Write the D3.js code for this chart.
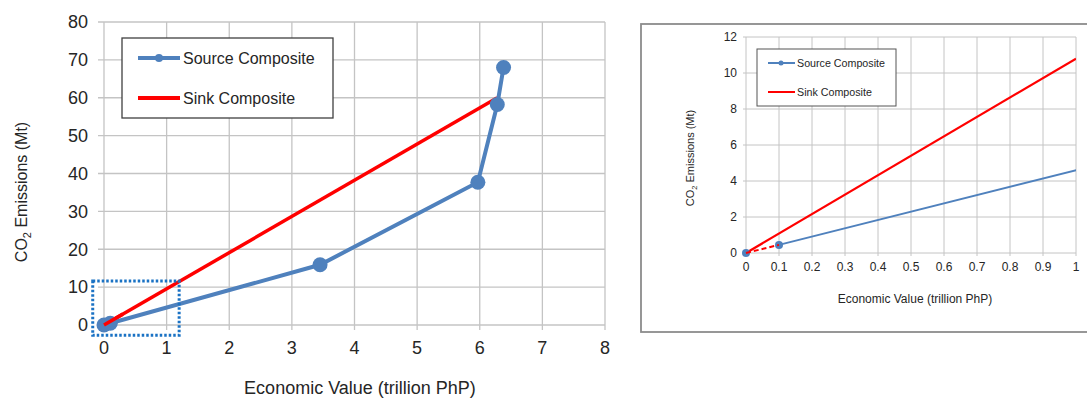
<!DOCTYPE html>
<html>
<head>
<meta charset="utf-8">
<script src="https://cdn.jsdelivr.net/npm/d3@7"></script>
<style>
body { margin:0; background:#fff; }
svg { font-family: "Liberation Sans", Arial, sans-serif; }
.grid line { stroke:#c4c4c4; stroke-width:1.3; }
.axis text { fill:#262626; }
</style>
</head>
<body>
<script>
// main chart data
var sourceX = [0, 0.1, 3.45, 5.97, 6.28, 6.38];
var sourceY = [0, 0.45, 15.9, 37.7, 58.2, 68.0];
var sinkX = [0, 6.28];
var sinkY = [0, 60.0];
var xTicks = [0, 1, 2, 3, 4, 5, 6, 7, 8];
var yTicks = [0, 10, 20, 30, 40, 50, 60, 70, 80];
// dotted zoom window (data units)
var zoomBoxX = [-0.18, 1.2];
var zoomBoxY = [-2.7, 11.6];

// zoomed chart data
var zSourceX = [0, 0.1];
var zSourceY = [0, 0.45];
var zSinkX = [0, 1];
var zSinkY = [0, 10.8];
var zLinkX = [0, 0.1];
var zLinkY = [0, 0.45];
var zxTicks = [0, 0.1, 0.2, 0.3, 0.4, 0.5, 0.6, 0.7, 0.8, 0.9, 1];
var zyTicks = [0, 2, 4, 6, 8, 10, 12];

var blue = "#4f81bd", red = "#ff0000";

var svg = d3.select("body").append("svg").attr("width", 1087).attr("height", 398);

function pts(xs, ys) { return xs.map(function(d, i) { return [d, ys[i]]; }); }

// ---------- left chart ----------
var x = d3.scaleLinear().domain([0, 8]).range([104, 605]);
var y = d3.scaleLinear().domain([0, 80]).range([325, 22]);

var grid = svg.append("g").attr("class", "grid");
grid.selectAll(".v").data(xTicks).enter().append("line")
  .attr("x1", x).attr("x2", x).attr("y1", y(80)).attr("y2", y(0) + 5);
grid.selectAll(".h").data(yTicks).enter().append("line")
  .attr("x1", x(0) - 6).attr("x2", x(8)).attr("y1", y).attr("y2", y);

svg.append("g").attr("class", "axis")
  .selectAll("text").data(yTicks).enter().append("text")
  .attr("x", x(0) - 16).attr("y", y).attr("dy", "0.35em")
  .attr("text-anchor", "end").style("font-size", "18px")
  .text(function(d) { return d; });
svg.append("g").attr("class", "axis")
  .selectAll("text").data(xTicks).enter().append("text")
  .attr("x", x).attr("y", y(0) + 29)
  .attr("text-anchor", "middle").style("font-size", "18px")
  .text(function(d) { return d; });

var line = d3.line().x(function(d) { return x(d[0]); }).y(function(d) { return y(d[1]); });

svg.append("path").datum(pts(sinkX, sinkY)).attr("d", line)
  .attr("fill", "none").attr("stroke", red).attr("stroke-width", 3.5);
svg.append("path").datum(pts(sourceX, sourceY)).attr("d", line)
  .attr("fill", "none").attr("stroke", blue).attr("stroke-width", 4);
svg.selectAll(".srcpt").data(pts(sourceX, sourceY)).enter().append("circle")
  .attr("cx", function(d) { return x(d[0]); }).attr("cy", function(d) { return y(d[1]); })
  .attr("r", 7.5).attr("fill", blue);
// sink line drawn over origin blob
svg.append("path").datum([[0, 0], [0.3, 2.87]]).attr("d", line)
  .attr("fill", "none").attr("stroke", red).attr("stroke-width", 3.5);

svg.append("rect")
  .attr("x", x(zoomBoxX[0])).attr("y", y(zoomBoxY[1]))
  .attr("width", x(zoomBoxX[1]) - x(zoomBoxX[0]))
  .attr("height", y(zoomBoxY[0]) - y(zoomBoxY[1]))
  .attr("fill", "none").attr("stroke", "#1a72c4").attr("stroke-width", 3)
  .attr("stroke-dasharray", "2.5,2");

// legend
var lg = svg.append("g");
lg.append("rect").attr("x", 122).attr("y", 38).attr("width", 211).attr("height", 80)
  .attr("fill", "#fff").attr("stroke", "#404040").attr("stroke-width", 1.3);
lg.append("line").attr("x1", 138).attr("x2", 180).attr("y1", 58).attr("y2", 58)
  .attr("stroke", blue).attr("stroke-width", 4);
lg.append("circle").attr("cx", 159).attr("cy", 58).attr("r", 4).attr("fill", blue);
lg.append("line").attr("x1", 138).attr("x2", 180).attr("y1", 98).attr("y2", 98)
  .attr("stroke", red).attr("stroke-width", 4);
lg.append("text").attr("x", 183).attr("y", 58).attr("dy", "0.35em").style("font-size", "16px")
  .attr("fill", "#262626").text("Source Composite");
lg.append("text").attr("x", 183).attr("y", 98).attr("dy", "0.35em").style("font-size", "16px")
  .attr("fill", "#262626").text("Sink Composite");

// titles
var yt = svg.append("text").attr("transform", "translate(27,192) rotate(-90)")
  .attr("text-anchor", "middle").style("font-size", "16px").attr("fill", "#262626");
yt.append("tspan").text("CO");
yt.append("tspan").attr("dy", 4).style("font-size", "11px").text("2");
yt.append("tspan").attr("dy", -4).text(" Emissions (Mt)");
svg.append("text").attr("x", 360).attr("y", 394).attr("text-anchor", "middle")
  .style("font-size", "18px").attr("fill", "#262626").text("Economic Value (trillion PhP)");

// ---------- right (zoomed) chart ----------
svg.append("rect").attr("x", 641).attr("y", 24).attr("width", 452).attr("height", 308)
  .attr("fill", "#fff").attr("stroke", "#8c8c8c").attr("stroke-width", 1.8);

var zx = d3.scaleLinear().domain([0, 1]).range([746, 1076]);
var zy = d3.scaleLinear().domain([0, 12]).range([253, 37]);

var zgrid = svg.append("g").attr("class", "grid");
zgrid.selectAll(".v").data(zxTicks).enter().append("line")
  .attr("x1", zx).attr("x2", zx).attr("y1", zy(12)).attr("y2", zy(0) + 3)
  .style("stroke-width", 1);
zgrid.selectAll(".h").data(zyTicks).enter().append("line")
  .attr("x1", zx(0) - 3).attr("x2", zx(1)).attr("y1", zy).attr("y2", zy)
  .style("stroke-width", 1);

svg.append("g").attr("class", "axis")
  .selectAll("text").data(zyTicks).enter().append("text")
  .attr("x", zx(0) - 9).attr("y", zy).attr("dy", "0.35em")
  .attr("text-anchor", "end").style("font-size", "12px")
  .text(function(d) { return d; });
svg.append("g").attr("class", "axis")
  .selectAll("text").data(zxTicks).enter().append("text")
  .attr("x", zx).attr("y", zy(0) + 18)
  .attr("text-anchor", "middle").style("font-size", "12px")
  .text(function(d) { return d; });

var zline = d3.line().x(function(d) { return zx(d[0]); }).y(function(d) { return zy(d[1]); });

svg.append("clipPath").attr("id", "zclip").append("rect")
  .attr("x", zx(0) - 8).attr("y", zy(12)).attr("width", zx(1) - zx(0) + 8).attr("height", zy(0) - zy(12) + 8);
var zg = svg.append("g").attr("clip-path", "url(#zclip)");
zg.append("path").datum(pts(sourceX.slice(1), sourceY.slice(1))).attr("d", zline)
  .attr("fill", "none").attr("stroke", blue).attr("stroke-width", 2);
zg.append("path").datum(pts(zSinkX, zSinkY)).attr("d", zline)
  .attr("fill", "none").attr("stroke", red).attr("stroke-width", 2.2);
zg.selectAll(".zpt").data(pts(zSourceX, zSourceY)).enter().append("circle")
  .attr("cx", function(d) { return zx(d[0]); }).attr("cy", function(d) { return zy(d[1]); })
  .attr("r", 4).attr("fill", blue);
zg.append("path").datum(pts(zLinkX, zLinkY)).attr("d", zline)
  .attr("fill", "none").attr("stroke", red).attr("stroke-width", 2)
  .attr("stroke-dasharray", "5,3");

var zl = svg.append("g");
zl.append("rect").attr("x", 757).attr("y", 49).attr("width", 139).attr("height", 57)
  .attr("fill", "#fff").attr("stroke", "#555").attr("stroke-width", 1);
zl.append("line").attr("x1", 768).attr("x2", 795).attr("y1", 63).attr("y2", 63)
  .attr("stroke", blue).attr("stroke-width", 2);
zl.append("circle").attr("cx", 781).attr("cy", 63).attr("r", 2.5).attr("fill", blue);
zl.append("line").attr("x1", 768).attr("x2", 795).attr("y1", 92).attr("y2", 92)
  .attr("stroke", red).attr("stroke-width", 2);
zl.append("text").attr("x", 797).attr("y", 63).attr("dy", "0.35em").style("font-size", "10.7px")
  .attr("fill", "#262626").text("Source Composite");
zl.append("text").attr("x", 797).attr("y", 92).attr("dy", "0.35em").style("font-size", "10.7px")
  .attr("fill", "#262626").text("Sink Composite");

var zyt = svg.append("text").attr("transform", "translate(694,158) rotate(-90)")
  .attr("text-anchor", "middle").style("font-size", "11px").attr("fill", "#262626");
zyt.append("tspan").text("CO");
zyt.append("tspan").attr("dy", 2.5).style("font-size", "7.5px").text("2");
zyt.append("tspan").attr("dy", -2.5).text(" Emissions (Mt)");
svg.append("text").attr("x", 915).attr("y", 303).attr("text-anchor", "middle")
  .style("font-size", "12px").attr("fill", "#262626").text("Economic Value (trillion PhP)");
</script>
</body>
</html>
